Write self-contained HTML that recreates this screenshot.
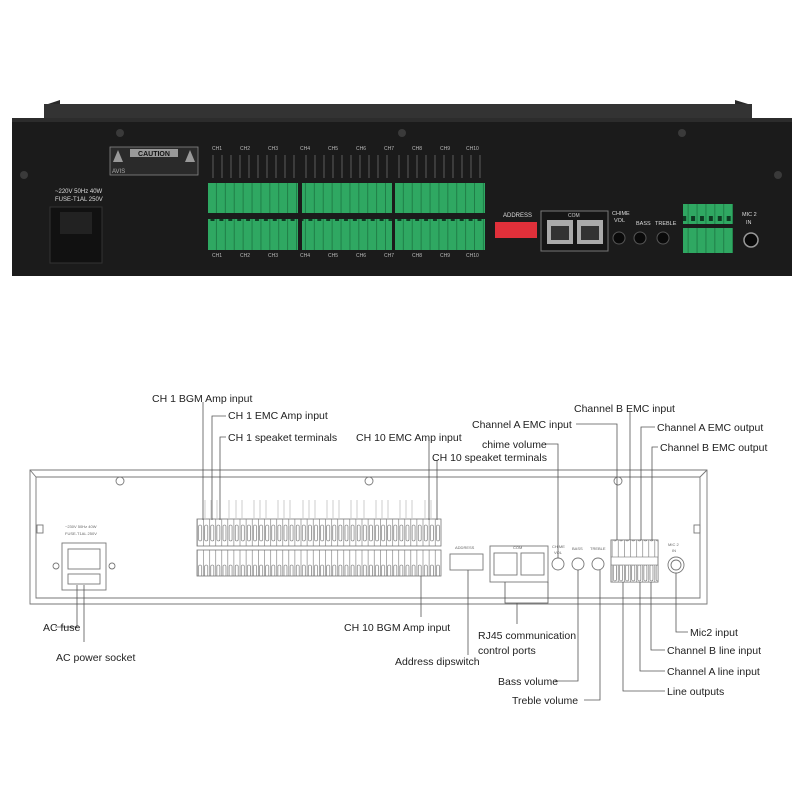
<!DOCTYPE html>
<html><head><meta charset="utf-8"><style>
body{margin:0;background:#fff}
svg{display:block}
text{font-family:"Liberation Sans",sans-serif}
</style></head><body>
<svg width="800" height="800" viewBox="0 0 800 800" xmlns="http://www.w3.org/2000/svg">
<defs>
<pattern id="grn" x="208" y="0" width="8.9" height="40" patternUnits="userSpaceOnUse">
<rect width="8.9" height="40" fill="#2fa862"/>
<rect x="2.5" y="16" width="4" height="5" fill="#0d3b22"/>
<rect x="8" width="0.9" height="40" fill="#1e7a45"/>
</pattern>
<pattern id="term" x="197" y="0" width="6.1" height="40" patternUnits="userSpaceOnUse">
<rect width="6.1" height="40" fill="#fff"/>
<line x1="0.3" y1="0" x2="0.3" y2="40" stroke="#777" stroke-width="0.6"/>
<rect x="1.6" y="5" width="3" height="16" rx="1.5" fill="none" stroke="#666" stroke-width="0.6"/>
</pattern>
</defs>

<!-- ===== PHOTO ===== -->
<path d="M48 104 L60 100 L60 104 L735 104 L735 100 L748 104 L752 118 L44 118 Z" fill="#2a2a2a"/>
<rect x="44" y="104" width="708" height="14" fill="#333"/>
<rect x="12" y="118" width="780" height="158" fill="#1b1b1b"/>
<rect x="12" y="118" width="780" height="4" fill="#2c2c2c"/>
<circle cx="120" cy="133" r="4" fill="#3a3a3a"/><circle cx="402" cy="133" r="4" fill="#3a3a3a"/><circle cx="682" cy="133" r="4" fill="#3a3a3a"/>
<circle cx="24" cy="175" r="4" fill="#3a3a3a"/><circle cx="778" cy="175" r="4" fill="#3a3a3a"/>
<rect x="110" y="147" width="88" height="28" fill="#2a2a2a" stroke="#888" stroke-width="0.8"/>
<rect x="130" y="149" width="48" height="8" fill="#999"/>
<text x="154" y="156" font-size="7" fill="#111" text-anchor="middle" font-weight="bold">CAUTION</text>
<text x="112" y="173" font-size="6" fill="#aaa">AVIS</text>
<polygon points="118,150 113,162 123,162" fill="#999"/><polygon points="190,150 185,162 195,162" fill="#999"/>
<text x="55" y="193" font-size="6" fill="#ddd">~220V 50Hz 40W</text>
<text x="55" y="201" font-size="6" fill="#ddd">FUSE-T1AL 250V</text>
<rect x="50" y="207" width="52" height="56" fill="#111" stroke="#333"/>
<rect x="60" y="212" width="32" height="22" fill="#222"/>
<g font-size="5" fill="#bbb">
<text x="212" y="150">CH1</text><text x="240" y="150">CH2</text><text x="268" y="150">CH3</text><text x="300" y="150">CH4</text><text x="328" y="150">CH5</text><text x="356" y="150">CH6</text><text x="384" y="150">CH7</text><text x="412" y="150">CH8</text><text x="440" y="150">CH9</text><text x="466" y="150">CH10</text>
<text x="212" y="257">CH1</text><text x="240" y="257">CH2</text><text x="268" y="257">CH3</text><text x="300" y="257">CH4</text><text x="328" y="257">CH5</text><text x="356" y="257">CH6</text><text x="384" y="257">CH7</text><text x="412" y="257">CH8</text><text x="440" y="257">CH9</text><text x="466" y="257">CH10</text>
</g>
<g stroke="#888" stroke-width="0.6">
<path d="M213 155 V178 M222 155 V178 M231 155 V178 M240 155 V178 M249 155 V178 M258 155 V178 M267 155 V178 M276 155 V178 M285 155 V178 M294 155 V178 M306 155 V178 M315 155 V178 M324 155 V178 M333 155 V178 M342 155 V178 M351 155 V178 M360 155 V178 M369 155 V178 M378 155 V178 M387 155 V178 M399 155 V178 M408 155 V178 M417 155 V178 M426 155 V178 M435 155 V178 M444 155 V178 M453 155 V178 M462 155 V178 M471 155 V178 M480 155 V178"/>
</g>
<rect x="208" y="183" width="90" height="30" fill="url(#grn)"/>
<rect x="302" y="183" width="90" height="30" fill="url(#grn)"/>
<rect x="395" y="183" width="90" height="30" fill="url(#grn)"/>
<rect x="208" y="219" width="90" height="31" fill="url(#grn)"/>
<rect x="302" y="219" width="90" height="31" fill="url(#grn)"/>
<rect x="395" y="219" width="90" height="31" fill="url(#grn)"/>
<text x="503" y="217" font-size="6" fill="#ddd">ADDRESS</text>
<rect x="495" y="222" width="42" height="16" fill="#e0303a"/>
<rect x="541" y="211" width="67" height="40" fill="#151515" stroke="#777"/>
<text x="568" y="217" font-size="5" fill="#ccc">COM</text>
<rect x="547" y="220" width="26" height="24" fill="#aaa"/><rect x="577" y="220" width="26" height="24" fill="#aaa"/>
<rect x="551" y="226" width="18" height="14" fill="#333"/><rect x="581" y="226" width="18" height="14" fill="#333"/>
<g font-size="5.5" fill="#ddd"><text x="612" y="215">CHIME</text><text x="614" y="222">VOL</text><text x="636" y="225">BASS</text><text x="655" y="225">TREBLE</text></g>
<circle cx="619" cy="238" r="6" fill="#0a0a0a" stroke="#555"/><circle cx="640" cy="238" r="6" fill="#0a0a0a" stroke="#555"/><circle cx="663" cy="238" r="6" fill="#0a0a0a" stroke="#555"/>
<rect x="683" y="204" width="50" height="20" fill="url(#grn)"/>
<rect x="683" y="228" width="50" height="25" fill="url(#grn)"/>
<text x="742" y="216" font-size="5.5" fill="#ddd">MIC 2</text><text x="746" y="224" font-size="5.5" fill="#ddd">IN</text>
<circle cx="751" cy="240" r="7" fill="#0a0a0a" stroke="#999" stroke-width="1.5"/>

<!-- ===== DIAGRAM ===== -->
<g fill="none" stroke="#777" stroke-width="0.9">
<path d="M30 470 L707 470 L707 604 L30 604 Z"/>
<path d="M36 477 L700 477 M36 477 V598 H700 V477"/>
<path d="M30 470 L36 477 M707 470 L700 477"/>
<circle cx="120" cy="481" r="4"/><circle cx="369" cy="481" r="4"/><circle cx="618" cy="481" r="4"/>
<rect x="37" y="525" width="6" height="8"/><rect x="694" y="525" width="6" height="8"/>
<rect x="62" y="543" width="44" height="47"/>
<rect x="68" y="549" width="32" height="20"/>
<rect x="68" y="574" width="32" height="10"/>
<circle cx="56" cy="566" r="3"/><circle cx="112" cy="566" r="3"/>
<rect x="450" y="554" width="33" height="16"/>
<rect x="490" y="546" width="58" height="36"/>
<rect x="494" y="553" width="23" height="22"/><rect x="521" y="553" width="23" height="22"/>
<circle cx="558" cy="564" r="6"/><circle cx="578" cy="564" r="6"/><circle cx="598" cy="564" r="6"/>
<rect x="611" y="540" width="47" height="42"/>
<circle cx="676" cy="565" r="8"/><circle cx="676" cy="565" r="5"/>
</g>
<rect x="197" y="519" width="244" height="27" fill="url(#term)" stroke="#777" stroke-width="0.8"/>
<rect x="197" y="550" width="244" height="26" fill="url(#term)" stroke="#777" stroke-width="0.8"/>
<rect x="611" y="540" width="47" height="17" fill="url(#term)" stroke="#777" stroke-width="0.6"/>
<rect x="611" y="565" width="47" height="17" fill="url(#term)" stroke="#777" stroke-width="0.6"/>
<g font-size="4" fill="#666">
<text x="65" y="528">~230V 50Hz 40W</text><text x="65" y="535">FUSE-T1AL 250V</text>
<text x="455" y="549">ADDRESS</text><text x="513" y="549">COM</text>
<text x="552" y="548">CHIME</text><text x="554" y="554">VOL</text><text x="572" y="550">BASS</text><text x="590" y="550">TREBLE</text>
<text x="668" y="546">MIC 2</text><text x="672" y="552">IN</text>
</g>
<g stroke="#999" stroke-width="0.5">
<path d="M205 500 V518 M211 500 V518 M217 500 V518 M229 500 V518 M236 500 V518 M242 500 V518 M254 500 V518 M260 500 V518 M266 500 V518 M278 500 V518 M284 500 V518 M290 500 V518 M303 500 V518 M309 500 V518 M315 500 V518 M327 500 V518 M333 500 V518 M339 500 V518 M351 500 V518 M357 500 V518 M364 500 V518 M376 500 V518 M382 500 V518 M388 500 V518 M400 500 V518 M406 500 V518 M412 500 V518 M425 500 V518 M431 500 V518 M437 500 V518"/>
</g>

<!-- callout lines -->
<g fill="none" stroke="#555" stroke-width="0.8">
<path d="M203 402 V520"/>
<path d="M226 416 H212 V520"/>
<path d="M226 437 H220 V520"/>
<path d="M429 440 V520"/>
<path d="M437 460 V520"/>
<path d="M576 424 H617 V540"/>
<path d="M545 444 H558 V558"/>
<path d="M630 412 V540"/>
<path d="M655 427 H641 V540"/>
<path d="M658 447 H652 V540"/>
<path d="M55 627 H77 V585"/>
<path d="M84 585 V642"/>
<path d="M421 576 V617"/>
<path d="M468 570 V655"/>
<path d="M505 582 V603 H548 V582 M517 603 V624"/>
<path d="M555 681 H578 V570"/>
<path d="M584 700 H600 V570"/>
<path d="M676 573 V632 H688"/>
<path d="M651 582 V650 H665"/>
<path d="M640 582 V671 H665"/>
<path d="M623 582 V691 H665"/>
</g>
<g font-size="10.5" fill="#222">
<text x="152" y="402">CH 1 BGM Amp input</text>
<text x="228" y="419">CH 1 EMC Amp input</text>
<text x="228" y="441">CH 1 speaket terminals</text>
<text x="356" y="441">CH 10 EMC Amp input</text>
<text x="432" y="461">CH 10 speaket terminals</text>
<text x="472" y="428">Channel A EMC input</text>
<text x="482" y="448">chime volume</text>
<text x="574" y="412">Channel B EMC input</text>
<text x="657" y="431">Channel A EMC output</text>
<text x="660" y="451">Channel B EMC output</text>
<text x="43" y="631">AC fuse</text>
<text x="56" y="661">AC power socket</text>
<text x="344" y="631">CH 10 BGM Amp input</text>
<text x="478" y="639">RJ45 communication</text>
<text x="478" y="654">control ports</text>
<text x="395" y="665">Address dipswitch</text>
<text x="498" y="685">Bass volume</text>
<text x="512" y="704">Treble volume</text>
<text x="690" y="636">Mic2 input</text>
<text x="667" y="654">Channel B line input</text>
<text x="667" y="675">Channel A line input</text>
<text x="667" y="695">Line outputs</text>
</g>
</svg>
</body></html>
